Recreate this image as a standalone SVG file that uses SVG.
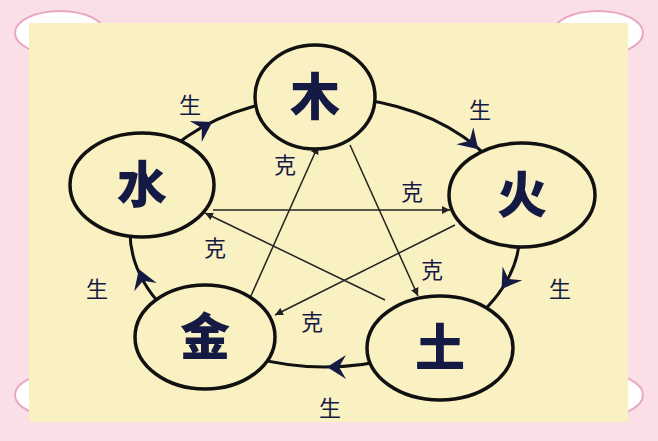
<svg xmlns="http://www.w3.org/2000/svg" width="658" height="441" viewBox="0 0 658 441">
<defs>
<style>
.n{fill:#f9f1c2;stroke:#111;stroke-width:3.5}
.b{font-family:"Noto Sans CJK SC",sans-serif;font-weight:900;font-size:50px;fill:#151a45;text-anchor:middle}
.s{font-family:"Noto Sans CJK SC",sans-serif;font-size:22px;fill:#151a45;text-anchor:middle}
.k{stroke:#222;stroke-width:1.5;fill:none}
.c{fill:#fff;stroke:#e9a8c0;stroke-width:2}
</style>
<marker id="a" viewBox="0 0 10 10" refX="10" refY="5" markerWidth="8" markerHeight="8" orient="auto" markerUnits="userSpaceOnUse"><path d="M0,0L10,5L0,10z" fill="#222"/></marker>
<path id="h" d="M-13,-12L6,0L-13,12L-6,0z" fill="#151a45"/>
</defs>
<rect width="658" height="441" fill="#fbdfe6"/>
<ellipse class="c" cx="60" cy="33" rx="45" ry="22"/>
<ellipse class="c" cx="598" cy="33" rx="45" ry="22"/>
<ellipse class="c" cx="60" cy="395" rx="45" ry="22"/>
<ellipse class="c" cx="598" cy="395" rx="45" ry="22"/>
<rect x="29" y="23" width="599" height="399" fill="#f9f1c2"/>
<g id="connectors">
<ellipse cx="325" cy="232" rx="195" ry="135" fill="none" stroke="#111" stroke-width="3"/>
<use href="#h" transform="translate(207,125) rotate(-30)"/>
<use href="#h" transform="translate(474,145) rotate(45)"/>
<use href="#h" transform="translate(505,284) rotate(125)"/>
<use href="#h" transform="translate(333,367) rotate(180)"/>
<use href="#h" transform="translate(141,275) rotate(-110)"/>
<line class="k" x1="350" y1="145" x2="418" y2="296" marker-end="url(#a)"/>
<line class="k" x1="250" y1="298" x2="318" y2="146" marker-end="url(#a)"/>
<line class="k" x1="213" y1="210" x2="450" y2="210" marker-end="url(#a)"/>
<line class="k" x1="385" y1="300" x2="205" y2="213" marker-end="url(#a)"/>
<line class="k" x1="455" y1="225" x2="275" y2="315" marker-end="url(#a)"/>
</g>
<g id="mu"><ellipse class="n" cx="315" cy="97" rx="60" ry="52"/><text class="b" x="315" y="115">木</text></g>
<g id="huo"><ellipse class="n" cx="522" cy="195" rx="73" ry="52"/><text class="b" x="522" y="213">火</text></g>
<g id="tu"><ellipse class="n" cx="440" cy="348" rx="73" ry="52"/><text class="b" x="440" y="366">土</text></g>
<g id="jin"><ellipse class="n" cx="205" cy="337" rx="70" ry="52"/><text class="b" x="205" y="355">金</text></g>
<g id="shui"><ellipse class="n" cx="142" cy="185" rx="72" ry="52"/><text class="b" x="142" y="203">水</text></g>
<g id="labels">
<text class="s" x="190" y="113">生</text>
<text class="s" x="480" y="118">生</text>
<text class="s" x="560" y="297">生</text>
<text class="s" x="330" y="416">生</text>
<text class="s" x="97" y="297">生</text>
<text class="s" x="285" y="173">克</text>
<text class="s" x="412" y="200">克</text>
<text class="s" x="215" y="256">克</text>
<text class="s" x="432" y="278">克</text>
<text class="s" x="312" y="330">克</text>
</g>
</svg>
